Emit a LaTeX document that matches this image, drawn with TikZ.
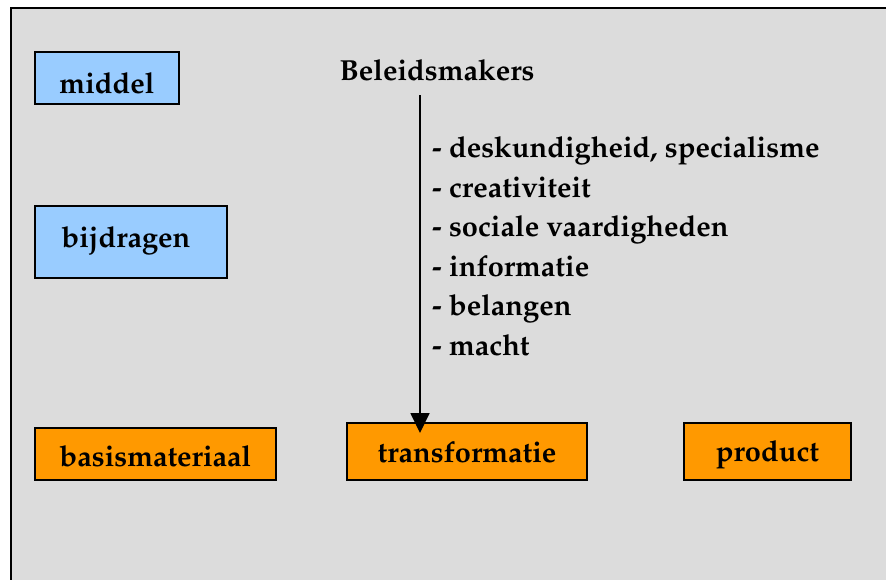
\documentclass[tikz,border=0pt]{standalone}
\usepackage[T1]{fontenc}
\renewcommand{\rmdefault}{ppl}
\usetikzlibrary{arrows.meta}
\definecolor{panelgray}{HTML}{DCDCDC}
\definecolor{boxblue}{HTML}{99CCFF}
\definecolor{boxorange}{HTML}{FF9900}
\tikzset{
  lbl/.style={font=\fontsize{29}{39.5}\selectfont\bfseries, inner sep=0pt},
  bluebox/.style={draw=black, line width=1.6pt, fill=boxblue},
  orangebox/.style={draw=black, line width=1.6pt, fill=boxorange},
  flow/.style={line width=1.8pt, -{Triangle[length=20pt,width=19pt]}},
}
\begin{document}
\begin{tikzpicture}[x=1pt, y=-1pt]
  \useasboundingbox (0,0) rectangle (886,579);
  % background panel
  \fill[white] (0,0) rectangle (886,579);
  \fill[panelgray] (10,7) rectangle (890,590);
  \draw[line width=2pt] (11,590) -- (11,8) -- (890,8);

  % boxes on the left
  \draw[bluebox] (35,52) rectangle (179,104);
  \node[lbl] (middel) at (107,83) {middel};
  \draw[bluebox] (35,206) rectangle (227,278);
  \node[lbl] (bijdragen) at (126,241) {bijdragen};

  % bottom row
  \draw[orangebox] (35,428) rectangle (276,480);
  \node[lbl] (basis) at (155.5,456) {basismateriaal};
  \draw[orangebox] (347,423) rectangle (587,480);
  \coordinate (transtop) at (467,423);
  \node[lbl] (trans) at (467,452) {transformatie};
  \draw[orangebox] (684,423) rectangle (851,480);
  \node[lbl] (product) at (767.5,455) {product};

  % policy makers and their resources
  \node[lbl] (beleid) at (437,70) {Beleidsmakers};
  \node[lbl, anchor=west, align=left] (items) at (432,246)
    {- deskundigheid, specialisme\\
     - creativiteit\\
     - sociale vaardigheden\\
     - informatie\\
     - belangen\\
     - macht};

  \coordinate (arrowtop) at (420,95);
  \draw[flow] (arrowtop) -- ([yshift=-10pt]transtop -| arrowtop);
\end{tikzpicture}
\end{document}
